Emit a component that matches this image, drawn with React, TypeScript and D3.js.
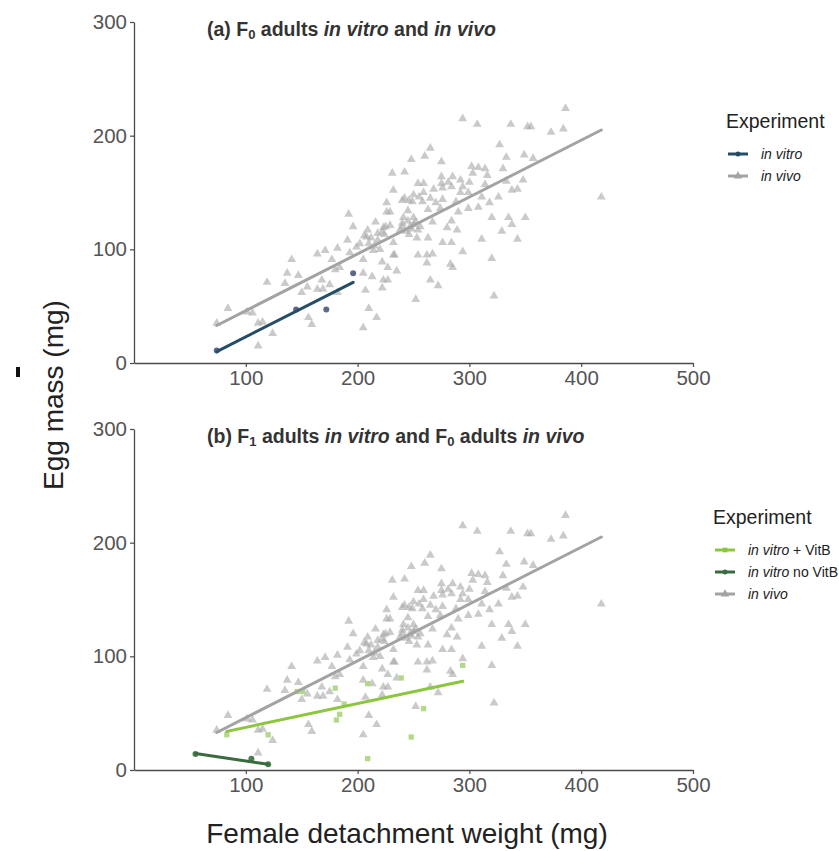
import React, { useEffect, useRef } from "react";
import * as d3 from "d3";

const xTicks = [100, 200, 300, 400, 500];
const yTicks = [0, 100, 200, 300];

// in vivo (F0 adults) – same data in both panels
const vivoX = [
  74, 84, 101, 106, 111, 115, 111, 124, 119, 135, 141, 137, 147, 150, 155, 156, 159, 164, 164, 168,
  171, 169, 175, 177, 180, 182, 182, 184, 191, 192, 196, 193, 199, 202, 205, 205, 205, 207, 209, 208,
  210, 213, 214, 216, 217, 218, 222, 223, 225, 226, 227, 229, 232, 231, 233, 235, 238, 240, 242, 246,
  248, 252, 254, 254, 260, 262, 259, 294, 307, 337, 352, 265, 275, 327, 333, 349, 302, 308, 314, 330,
  275, 285, 303, 316, 292, 300, 275, 281, 276, 284, 294, 314, 333, 348, 268, 259, 250, 292, 299, 338,
  343, 242, 255, 265, 276, 311, 326, 249, 258, 270, 288, 318, 226, 245, 263, 274, 290, 299, 308, 320,
  335, 350, 241, 250, 267, 284, 223, 229, 240, 247, 254, 280, 289, 329, 338, 224, 232, 253, 263, 276,
  284, 311, 343, 232, 262, 267, 294, 320, 283, 285, 227, 265, 272, 222, 322, 245, 250, 248, 252, 256,
  243, 240, 246, 210, 212, 215, 218, 220, 206, 222, 386, 355, 373, 384, 357, 418,
];
const vivoY = [
  35, 48, 45, 44, 35, 36, 15, 26, 71, 70, 91, 79, 77, 62, 67, 40, 34, 96, 65, 73,
  99, 65, 69, 91, 82, 62, 101, 84, 108, 131, 120, 97, 102, 105, 91, 79, 31, 64, 117, 111,
  48, 76, 99, 124, 40, 114, 89, 73, 120, 141, 84, 133, 152, 167, 95, 81, 117, 143, 168, 143,
  179, 56, 95, 158, 182, 88, 158, 215, 210, 210, 208, 189, 177, 192, 181, 183, 173, 172, 171, 171,
  164, 164, 167, 165, 161, 159, 158, 159, 154, 155, 155, 157, 160, 161, 153, 150, 148, 150, 150, 152,
  153, 145, 146, 145, 144, 146, 146, 142, 142, 141, 142, 141, 133, 134, 135, 136, 133, 136, 137, 128,
  128, 128, 128, 128, 124, 125, 119, 121, 120, 120, 117, 119, 117, 116, 122, 113, 106, 110, 110, 106,
  106, 109, 109, 95, 95, 96, 98, 92, 87, 84, 73, 73, 68, 66, 59, 125, 122, 118, 124, 120,
  116, 123, 113, 105, 110, 103, 108, 100, 112, 115, 224, 208, 203, 206, 180, 146,
];

// in vitro (F0, panel a)
const vitroX = [74, 145, 172, 196];
const vitroY = [11, 47, 47, 79];

// in vitro + VitB (F1, panel b)
const vitBX = [83, 120, 146, 151, 180, 188, 184, 181, 209, 209, 239, 248, 259, 294];
const vitBY = [31, 31, 69, 69, 72, 58, 49, 44, 76, 10, 81, 29, 54, 92];

// in vitro no VitB (F1, panel b)
const noVitBX = [55, 105, 120];
const noVitBY = [14, 10, 5];

// fitted lines (endpoints)
const vivoFitX = [74, 418];
const vivoFitY = [33, 205];
const vitroFitX = [74, 196];
const vitroFitY = [10, 71];
const vitBFitX = [83, 294];
const vitBFitY = [34, 78];
const noVitBFitX = [55, 120];
const noVitBFitY = [14.5, 5];

const FONT = "'Liberation Sans', Arial, Helvetica, sans-serif";

const C = {
  vivoPt: "#a6a6a6",
  vivoLine: "#a3a3a3",
  vitroPt: "#5b6a8a",
  vitroLine: "#264d66",
  vitBPt: "#b3d88a",
  vitBLine: "#8cc63f",
  noVitBPt: "#4b7d50",
  noVitBLine: "#3a6b3f",
};

export default function App() {
  const ref = useRef<SVGSVGElement>(null);

  useEffect(() => {
    const svg = d3.select(ref.current);
    svg.selectAll("*").remove();

    const x = d3.scaleLinear().domain([0, 500]).range([134, 693]);
    const tri = d3.symbol().type(d3.symbolTriangle).size(34);
    const sq = d3.symbol().type(d3.symbolSquare).size(28);

    const panels = [
      { top: 22, bottom: 363, key: "a" },
      { top: 429, bottom: 770, key: "b" },
    ];

    panels.forEach((p) => {
      const y = d3.scaleLinear().domain([0, 300]).range([p.bottom, p.top]);
      const g = svg.append("g");

      // axes
      const yAxis = d3.axisLeft(y).tickValues(yTicks).tickSize(4).tickPadding(3).tickSizeOuter(0);
      const xAxis = d3.axisBottom(x).tickValues(xTicks).tickSize(4).tickPadding(3).tickSizeOuter(0);
      const ya = g.append("g").attr("transform", `translate(${x(0)},0)`).call(yAxis);
      const xa = g.append("g").attr("transform", `translate(0,${p.bottom})`).call(xAxis);
      [ya, xa].forEach((a) => {
        a.select(".domain").attr("stroke", "#4a4a4a").attr("stroke-width", 1.3);
        a.selectAll(".tick line").attr("stroke", "#4a4a4a").attr("stroke-width", 1.2);
        a.selectAll(".tick text")
          .attr("font-family", FONT)
          .attr("font-size", 20.5)
          .attr("fill", "#555");
      });

      // in vivo points
      g.append("g")
        .selectAll("path")
        .data(vivoX.map((d, i) => [d, vivoY[i]]))
        .join("path")
        .attr("d", tri as any)
        .attr("transform", (d) => `translate(${x(d[0])},${y(d[1])})`)
        .attr("fill", C.vivoPt)
        .attr("fill-opacity", 0.6);

      const line = d3
        .line<[number, number]>()
        .x((d) => x(d[0]))
        .y((d) => y(d[1]));
      const fit = (xs: number[], ys: number[], color: string, w = 3) =>
        g
          .append("path")
          .attr("d", line(xs.map((d, i) => [d, ys[i]]) as [number, number][]))
          .attr("stroke", color)
          .attr("stroke-width", w)
          .attr("fill", "none")
          .attr("stroke-linecap", "round");

      if (p.key === "a") {
        g.append("g")
          .selectAll("circle")
          .data(vitroX.map((d, i) => [d, vitroY[i]]))
          .join("circle")
          .attr("cx", (d) => x(d[0]))
          .attr("cy", (d) => y(d[1]))
          .attr("r", 3)
          .attr("fill", C.vitroPt);
        fit(vivoFitX, vivoFitY, C.vivoLine);
        fit(vitroFitX, vitroFitY, C.vitroLine);
      } else {
        g.append("g")
          .selectAll("path")
          .data(vitBX.map((d, i) => [d, vitBY[i]]))
          .join("path")
          .attr("d", sq as any)
          .attr("transform", (d) => `translate(${x(d[0])},${y(d[1])})`)
          .attr("fill", C.vitBPt);
        g.append("g")
          .selectAll("circle")
          .data(noVitBX.map((d, i) => [d, noVitBY[i]]))
          .join("circle")
          .attr("cx", (d) => x(d[0]))
          .attr("cy", (d) => y(d[1]))
          .attr("r", 3)
          .attr("fill", C.noVitBPt);
        fit(vivoFitX, vivoFitY, C.vivoLine);
        fit(vitBFitX, vitBFitY, C.vitBLine);
        fit(noVitBFitX, noVitBFitY, C.noVitBLine);
      }
    });

    // titles
    const TFS = 19.5;
    const SFS = 13;
    const titleA = svg.append("text").attr("x", 207).attr("y", 36).attr("font-family", FONT)
      .attr("font-weight", "bold").attr("font-size", TFS).attr("fill", "#333");
    titleA.append("tspan").text("(a) F");
    titleA.append("tspan").text("0").attr("font-size", SFS).attr("dy", 3);
    titleA.append("tspan").text(" adults ").attr("dy", -3);
    titleA.append("tspan").text("in vitro").attr("font-style", "italic");
    titleA.append("tspan").text(" and ");
    titleA.append("tspan").text("in vivo").attr("font-style", "italic");

    const titleB = svg.append("text").attr("x", 207).attr("y", 443).attr("font-family", FONT)
      .attr("font-weight", "bold").attr("font-size", TFS).attr("fill", "#333");
    titleB.append("tspan").text("(b) F");
    titleB.append("tspan").text("1").attr("font-size", SFS).attr("dy", 3);
    titleB.append("tspan").text(" adults ").attr("dy", -3);
    titleB.append("tspan").text("in vitro").attr("font-style", "italic");
    titleB.append("tspan").text(" and F");
    titleB.append("tspan").text("0").attr("font-size", SFS).attr("dy", 3);
    titleB.append("tspan").text(" adults ").attr("dy", -3);
    titleB.append("tspan").text("in vivo").attr("font-style", "italic");

    // axis titles
    svg.append("text")
      .attr("transform", "translate(63,395) rotate(-90)")
      .attr("text-anchor", "middle")
      .attr("font-family", FONT)
      .attr("font-size", 28)
      .attr("fill", "#222")
      .text("Egg mass (mg)");
    svg.append("text")
      .attr("x", 407)
      .attr("y", 843)
      .attr("text-anchor", "middle")
      .attr("font-family", FONT)
      .attr("font-size", 28)
      .attr("fill", "#222")
      .text("Female detachment weight (mg)");
    svg.append("rect").attr("x", 16).attr("y", 367).attr("width", 4).attr("height", 10).attr("fill", "#111");

    // legends
    const legend = (
      lx: number,
      ly: number,
      items: { parts: { t: string; it?: boolean }[]; color: string; pt: string; shape: string }[]
    ) => {
      svg.append("text").attr("x", lx).attr("y", ly).attr("font-family", FONT)
        .attr("font-size", 19.5).attr("fill", "#222").text("Experiment");
      items.forEach((it, i) => {
        const cy = ly + 26 + i * 22;
        svg.append("line").attr("x1", lx + 2).attr("x2", lx + 22).attr("y1", cy).attr("y2", cy)
          .attr("stroke", it.color).attr("stroke-width", 3);
        const cx = lx + 12;
        if (it.shape === "circle") {
          svg.append("circle").attr("cx", cx).attr("cy", cy).attr("r", 2.5).attr("fill", it.pt);
        } else if (it.shape === "tri") {
          svg.append("path").attr("d", d3.symbol().type(d3.symbolTriangle).size(30)() as string)
            .attr("transform", `translate(${cx},${cy})`).attr("fill", it.pt);
        } else {
          svg.append("path").attr("d", d3.symbol().type(d3.symbolSquare).size(22)() as string)
            .attr("transform", `translate(${cx},${cy})`).attr("fill", it.pt);
        }
        const t = svg.append("text").attr("x", lx + 35).attr("y", cy + 5).attr("font-family", FONT)
          .attr("font-size", 14).attr("fill", "#222");
        it.parts.forEach((pp) => {
          const s = t.append("tspan").text(pp.t);
          if (pp.it) s.attr("font-style", "italic");
        });
      });
    };
    legend(726, 128, [
      { parts: [{ t: "in vitro", it: true }], color: C.vitroLine, pt: C.vitroLine, shape: "circle" },
      { parts: [{ t: "in vivo", it: true }], color: C.vivoLine, pt: C.vivoLine, shape: "tri" },
    ]);
    legend(713, 524, [
      { parts: [{ t: "in vitro", it: true }, { t: " + VitB" }], color: C.vitBLine, pt: C.vitBLine, shape: "sq" },
      { parts: [{ t: "in vitro", it: true }, { t: " no VitB" }], color: C.noVitBLine, pt: C.noVitBLine, shape: "circle" },
      { parts: [{ t: "in vivo", it: true }], color: C.vivoLine, pt: C.vivoLine, shape: "tri" },
    ]);
  }, []);

  return (
    <svg
      ref={ref}
      width={839}
      height={851}
      style={{ position: "absolute", left: 0, top: 0, background: "#fff" }}
    />
  );
}
